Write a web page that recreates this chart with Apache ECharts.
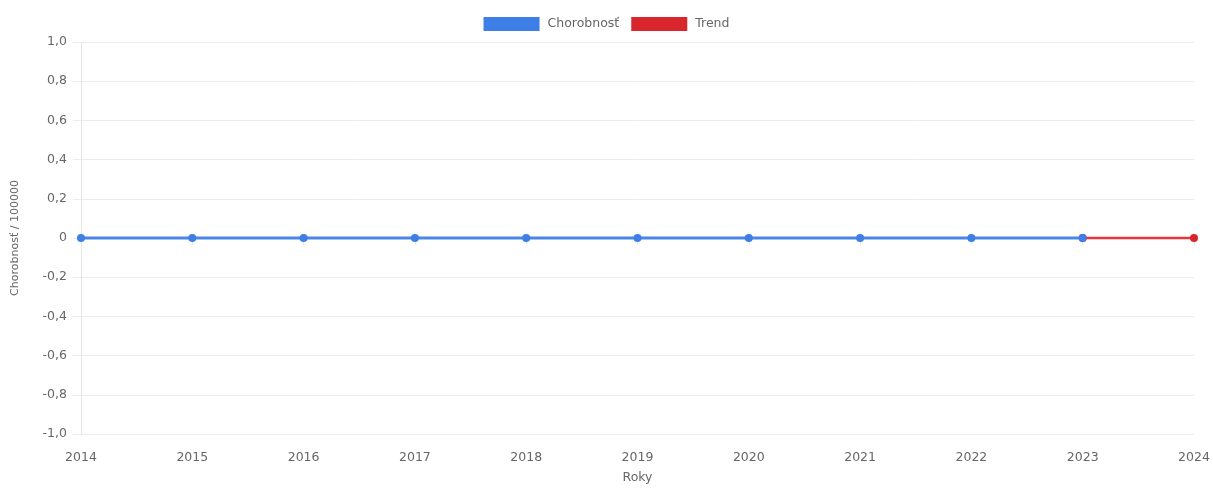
<!DOCTYPE html>
<html>
<head>
<meta charset="utf-8">
<script src="https://cdn.jsdelivr.net/npm/echarts@6/dist/echarts.min.js"></script>
<style>
html,body{margin:0;padding:0;background:#fff;}
#chart{width:1213px;height:489px;}
</style>
</head>
<body>
<div id="chart"></div>
<script>
const years = ['2014','2015','2016','2017','2018','2019','2020','2021','2022','2023','2024'];
const chorobnost = [0,0,0,0,0,0,0,0,0,0,null];
const trend = [null,null,null,null,null,null,null,null,null,0,0];
const yMin = -1, yMax = 1, yStep = 0.2;

const chart = echarts.init(document.getElementById('chart'));
const font = '"DejaVu Sans", Verdana, sans-serif';
chart.setOption({
  animation: false,
  textStyle: { fontFamily: font },
  legend: {
    top: 12,
    left: 'center',
    itemWidth: 56,
    itemHeight: 14,
    itemGap: 12,
    icon: 'rect',
    textStyle: { color: '#666', fontSize: 12.5, fontFamily: font, padding: [0, 0, 0, 3] },
    data: ['Chorobnosť', 'Trend']
  },
  grid: { left: 81, right: 19, top: 42, bottom: 48, containLabel: false },
  xAxis: {
    type: 'category',
    boundaryGap: false,
    data: years,
    name: 'Roky',
    nameLocation: 'middle',
    nameGap: 37,
    nameTextStyle: { color: '#666', fontSize: 12.5, fontFamily: font },
    axisLine: { show: true, lineStyle: { color: '#e6e6e6', width: 1 } },
    axisTick: { show: true, length: 7, alignWithLabel: true, lineStyle: { color: '#e6e6e6' } },
    axisLabel: { color: '#666', fontSize: 12.5, margin: 17, fontFamily: font },
    splitLine: { show: false }
  },
  yAxis: {
    type: 'value',
    min: yMin,
    max: yMax,
    interval: yStep,
    name: 'Chorobnosť / 100000',
    nameLocation: 'middle',
    nameGap: 60,
    nameRotate: 90,
    nameTextStyle: { color: '#666', fontSize: 11, fontFamily: font },
    axisLine: { show: true, lineStyle: { color: '#e6e6e6', width: 1 } },
    axisTick: { show: true, length: 8, lineStyle: { color: '#ececec' } },
    axisLabel: {
      color: '#666', fontSize: 12.5, margin: 14, fontFamily: font,
      formatter: function (v) {
        const r = Math.round(v * 10) / 10;
        if (r === 0) return '0';
        return r.toFixed(1).replace('.', ',');
      }
    },
    splitLine: { show: true, lineStyle: { color: '#ececec', width: 1 } }
  },
  series: [
    {
      name: 'Chorobnosť',
      type: 'line',
      data: chorobnost,
      color: '#3d7fe6',
      lineStyle: { width: 3, color: '#4a86e8' },
      itemStyle: { color: '#3d7fe6' },
      symbol: 'circle',
      symbolSize: 8,
      showSymbol: true,
      z: 3
    },
    {
      name: 'Trend',
      type: 'line',
      data: trend,
      color: '#e8282d',
      lineStyle: { width: 2.5, color: '#e8343a' },
      itemStyle: { color: '#d8262c' },
      symbol: 'circle',
      symbolSize: 8,
      showSymbol: true,
      z: 2
    }
  ]
});
</script>
</body>
</html>
